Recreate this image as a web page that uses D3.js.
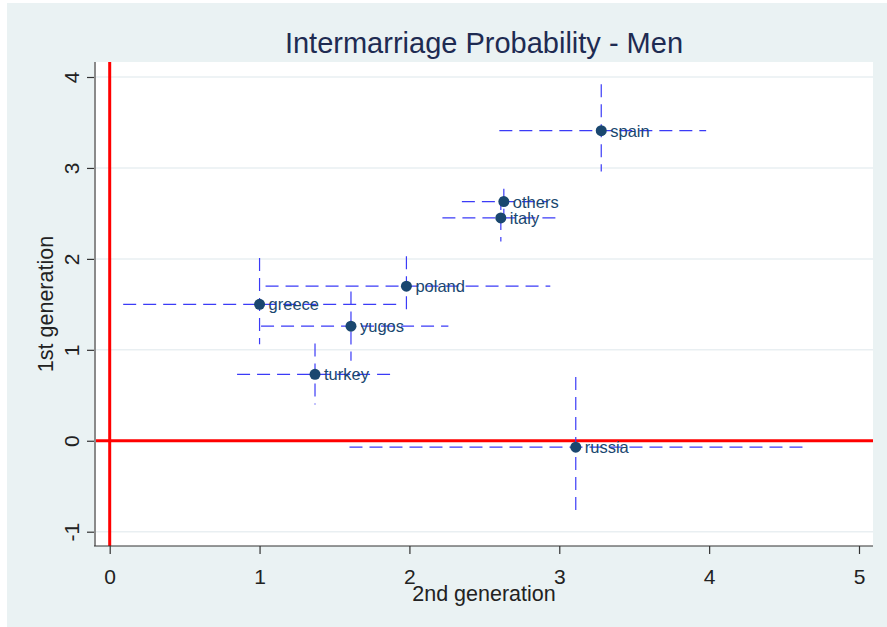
<!DOCTYPE html>
<html>
<head>
<meta charset="utf-8">
<script src="https://cdn.jsdelivr.net/npm/d3@7"></script>
<style>
  html, body { margin: 0; padding: 0; background: #ffffff; }
  svg { display: block; }
  text { font-family: "Liberation Sans", Arial, sans-serif; }
</style>
</head>
<body>
<svg id="chart" width="887" height="627"></svg>
<script>
// Origin groups and estimated intermarriage effects, with interval bounds
const countries = ["spain", "others", "italy", "poland", "greece", "yugos", "turkey", "russia"];
const gen2   = [3.28, 2.63, 2.61, 1.98, 1.00, 1.61, 1.37, 3.11];
const gen1   = [3.41, 2.63, 2.45, 1.70, 1.50, 1.26, 0.73, -0.07];
const gen2Lo = [2.60, 2.35, 2.22, 1.04, 0.09, 1.01, 0.85, 1.60];
const gen2Hi = [3.98, 2.92, 3.02, 2.94, 1.94, 2.26, 1.91, 4.63];
const gen1Lo = [2.96, 2.49, 2.19, 1.37, 1.06, 0.88, 0.40, -0.81];
const gen1Hi = [3.92, 2.77, 2.68, 2.03, 2.01, 1.64, 1.07, 0.70];

const xTicks = [0, 1, 2, 3, 4, 5];
const yTicks = [-1, 0, 1, 2, 3, 4];

const titleText = "Intermarriage Probability - Men";
const xTitle = "2nd generation";
const yTitle = "1st generation";

const rows = countries.map((c, i) => ({
  name: c, x: gen2[i], y: gen1[i],
  xlo: gen2Lo[i], xhi: gen2Hi[i], ylo: gen1Lo[i], yhi: gen1Hi[i]
}));

// plain hyphen for negative tick values
const fmt = d => String(d);

const svg = d3.select("#chart");

// plot frame
const plot = { left: 95, right: 873, top: 62, bottom: 546 };
const x = d3.scaleLinear().domain([0, 5]).range([109.7, 859]);
const y = d3.scaleLinear().domain([-1, 4]).range([531.7, 77]);

// page background
svg.append("rect").attr("x", 7).attr("y", 3).attr("width", 880).attr("height", 624)
  .attr("fill", "#eaf2f3");

svg.append("rect")
  .attr("x", plot.left).attr("y", plot.top)
  .attr("width", plot.right - plot.left).attr("height", plot.bottom - plot.top)
  .attr("fill", "#ffffff");

// horizontal gridlines
svg.append("g").selectAll("line").data(yTicks).join("line")
  .attr("x1", plot.left).attr("x2", plot.right)
  .attr("y1", d => y(d)).attr("y2", d => y(d))
  .attr("stroke", "#e9eff2").attr("stroke-width", 1.5);

// reference lines at zero
svg.append("line")
  .attr("x1", x(0)).attr("x2", x(0)).attr("y1", plot.top).attr("y2", plot.bottom)
  .attr("stroke", "#ff0000").attr("stroke-width", 3);
svg.append("line")
  .attr("x1", plot.left).attr("x2", plot.right).attr("y1", y(0)).attr("y2", y(0))
  .attr("stroke", "#ff0000").attr("stroke-width", 3);

// y axis (left)
const yAxis = d3.axisLeft(y).tickValues(yTicks).tickSize(8).tickFormat(fmt);
const gy = svg.append("g").attr("transform", `translate(${plot.left},0)`).call(yAxis);
gy.select(".domain").remove();
gy.selectAll(".tick line").attr("stroke", "#333").attr("stroke-width", 1.2);
gy.selectAll(".tick text").remove();
gy.selectAll(".tick").append("text")
  .attr("transform", "translate(-16,0) rotate(-90)")
  .attr("text-anchor", "middle")
  .attr("fill", "#222").attr("font-size", 21)
  .text(fmt);
svg.append("line")
  .attr("x1", plot.left).attr("x2", plot.left).attr("y1", plot.top).attr("y2", plot.bottom)
  .attr("stroke", "#8a8a8a").attr("stroke-width", 2);

// x axis (bottom)
const xAxis = d3.axisBottom(x).tickValues(xTicks).tickSize(8).tickFormat(fmt);
const gx = svg.append("g").attr("transform", `translate(0,${plot.bottom})`).call(xAxis);
gx.select(".domain").remove();
gx.selectAll(".tick line").attr("stroke", "#333").attr("stroke-width", 1.2);
gx.selectAll(".tick text").attr("y", 0).attr("dy", 0)
  .attr("transform", "translate(0,38)")
  .attr("fill", "#222").attr("font-size", 21)
  .attr("font-family", "Liberation Sans, Arial, sans-serif");
svg.append("line")
  .attr("x1", plot.left - 1).attr("x2", plot.right).attr("y1", plot.bottom).attr("y2", plot.bottom)
  .attr("stroke", "#333").attr("stroke-width", 1.2);

// interval lines
const ciColor = "#3b3bf7";
const ci = svg.append("g").attr("fill", "none").attr("stroke", ciColor)
  .attr("stroke-width", 1.2).attr("stroke-dasharray", "13,7");
ci.selectAll("line.h").data(rows).join("line").attr("class", "h")
  .attr("x1", d => x(d.xlo)).attr("x2", d => x(d.xhi))
  .attr("y1", d => y(d.y)).attr("y2", d => y(d.y));
ci.selectAll("line.v").data(rows).join("line").attr("class", "v")
  .attr("x1", d => x(d.x)).attr("x2", d => x(d.x))
  .attr("y1", d => y(d.yhi)).attr("y2", d => y(d.ylo));

// points and labels
svg.append("g").selectAll("circle").data(rows).join("circle")
  .attr("cx", d => x(d.x)).attr("cy", d => y(d.y)).attr("r", 5.5)
  .attr("fill", "#1a476f");
svg.append("g").selectAll("text").data(rows).join("text")
  .attr("x", d => x(d.x) + 9).attr("y", d => y(d.y) + 6)
  .attr("fill", "#1a476f").attr("font-size", 16.5)
  .text(d => d.name);

// titles
svg.append("text").attr("x", (plot.left + plot.right) / 2).attr("y", 53)
  .attr("text-anchor", "middle").attr("font-size", 29).attr("fill", "#1e2b52")
  .text(titleText);
svg.append("text").attr("x", (plot.left + plot.right) / 2).attr("y", 601)
  .attr("text-anchor", "middle").attr("font-size", 21.5).attr("fill", "#222")
  .text(xTitle);
svg.append("text")
  .attr("transform", `translate(53,${(plot.top + plot.bottom) / 2}) rotate(-90)`)
  .attr("text-anchor", "middle").attr("font-size", 21.5).attr("fill", "#222")
  .text(yTitle);
</script>
</body>
</html>
